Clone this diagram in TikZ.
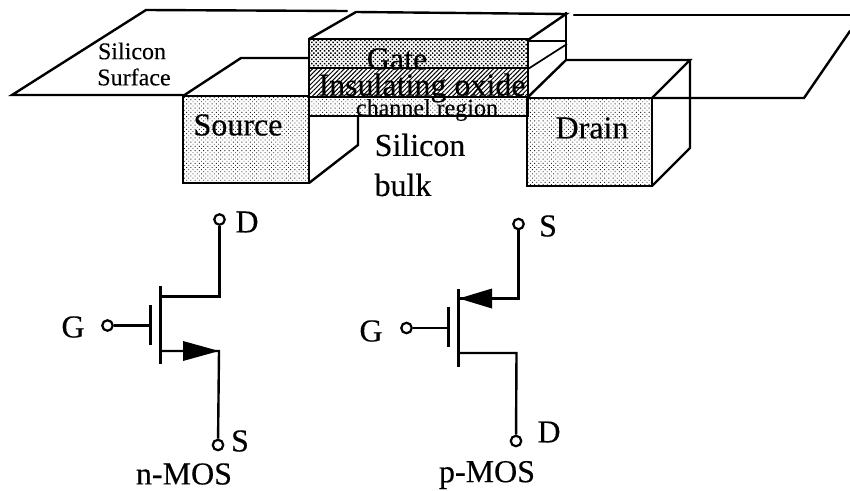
\documentclass[tikz,border=0pt]{standalone}
\usepackage{fontspec}
\setmainfont{Liberation Serif}
\usetikzlibrary{patterns.meta,arrows.meta}
\tikzset{
  ln/.style={line width=2.4pt,line join=miter,line cap=round},
  thinln/.style={line width=1.7pt},
  dotsfill/.style={pattern={Dots[distance=3pt,radius=0.62pt,angle=45]},pattern color=black!85},
  gatefill/.style={pattern={Dots[distance=3pt,radius=1.05pt,angle=45]},pattern color=black},
  oxfill/.style={pattern={Lines[distance=3.2pt,angle=45,line width=1.0pt]},pattern color=black},
  term/.style={circle,draw,line width=2.2pt,fill=white,minimum size=10.5pt,inner sep=0pt},
  big/.style={font=\fontsize{32}{32}\selectfont\addfontfeature{FakeBold=0.25},inner sep=0pt},
  small/.style={font=\fontsize{24}{24}\selectfont\addfontfeature{FakeBold=0.2},inner sep=0pt},
  wire/.style={line width=2.4pt},
  arr/.style={fill=black,draw=none}
}
\begin{document}
\begin{tikzpicture}[x=1pt,y=-1pt]
\useasboundingbox (0,0) rectangle (850,490);
% planes
\draw[ln] (183,95) -- (12,95) -- (146,10) -- (347,11);
\draw[ln] (574,15) -- (850,15);
\draw[ln] (850,31) -- (804,98) -- (652,98);
% source
\draw[ln,dotsfill] (183,96) rectangle (309,183);
\draw[ln] (183,96) -- (241,58) -- (309,58);
\draw[ln] (309,183) -- (358,145) -- (358,117);
% gate stack
\draw[ln,gatefill] (309,39) rectangle (528,68);
\draw[ln,oxfill] (309,68) rectangle (528,97);
\draw[ln,dotsfill] (309,97) rectangle (528,116);
\draw[ln] (309,39) -- (356,12) -- (566,14) -- (528,40);
\draw[thinln] (528,41) -- (567,41);
\draw[thinln] (528,69) -- (567,44);
\draw[thinln] (566,12) -- (566,60);
% drain
\draw[ln,dotsfill] (527,98) rectangle (652,186);
\draw[ln] (527,98) -- (566,60) -- (690,60) -- (652,98);
\draw[ln] (652,186) -- (690,148) -- (690,60);
% labels of the upper part
\node[small] (silA) at (132,51) {Silicon};
\node[small] (silB) at (134,77) {Surface};
\node[big] (src) at (238,125) {Source};
\node[big] (drn) at (592,128) {Drain};
\node[big] (gt) at (397,59) {Gate};
\node[big] (ox) at (422,88) {Insulating oxide};
\node[small] (ch) at (427,110) {channel region};
\node[big] (blkA) at (420,145) {Silicon};
\node[big] (blkB) at (403,185) {bulk};
% n-MOS
\node[term] (nd) at (219.5,219.5) {};
\node[term] (ng) at (107.5,325.5) {};
\node[term] (ns) at (218,445) {};
\coordinate (nc1) at (160.5,286);
\coordinate (nc2) at (160.5,364);
\coordinate (ng1) at (150.5,305);
\coordinate (ng2) at (150.5,345);
\coordinate (ngm) at (150.5,325.5);
\coordinate (ndj) at (219.5,296.5);
\coordinate (ndb) at (160.5,296.5);
\coordinate (nsb) at (160.5,351);
\coordinate (nsj) at (219,351);
\draw[wire] (nc1) -- (nc2);
\draw[wire] (ng1) -- (ng2);
\draw[wire] (ng) -- (ngm);
\draw[wire,line join=miter] (nd) -- (ndj) -- (ndb);
\draw[wire,line join=miter] (nsb) -- (nsj) -- (ns);
\fill[arr] (nsj) -- (183,341) -- (183,361) -- cycle;
\node[big] (ldD) at (247,222) {D};
\node[big] (lnS) at (240,441) {S};
\node[big] (lnG) at (73,327) {G};
\node[big] (lnM) at (184,474) {n-MOS};
% p-MOS
\node[term] (ps) at (518.5,224) {};
\node[term] (pg) at (406.5,328) {};
\node[term] (pd) at (516,441) {};
\coordinate (pc1) at (458.5,289);
\coordinate (pc2) at (458.5,367);
\coordinate (pg1) at (448.5,307);
\coordinate (pg2) at (448.5,347);
\coordinate (pgm) at (448.5,328);
\coordinate (psj) at (518.5,298.5);
\coordinate (psb) at (459,298.5);
\coordinate (pdb) at (458.5,353);
\coordinate (pdj) at (516.5,353);
\draw[wire] (pc1) -- (pc2);
\draw[wire] (pg1) -- (pg2);
\draw[wire] (pg) -- (pgm);
\draw[wire,line join=miter] (ps) -- (psj) -- (psb);
\draw[wire,line join=miter] (pdb) -- (pdj) -- (pd);
\fill[arr] (psb) -- (492,288.5) -- (492,308.5) -- cycle;
\node[big] (lpS) at (548,226) {S};
\node[big] (lpD) at (549,432) {D};
\node[big] (lpG) at (371,331) {G};
\node[big] (lpM) at (487,475) {p-MOS};
\end{tikzpicture}
\end{document}
